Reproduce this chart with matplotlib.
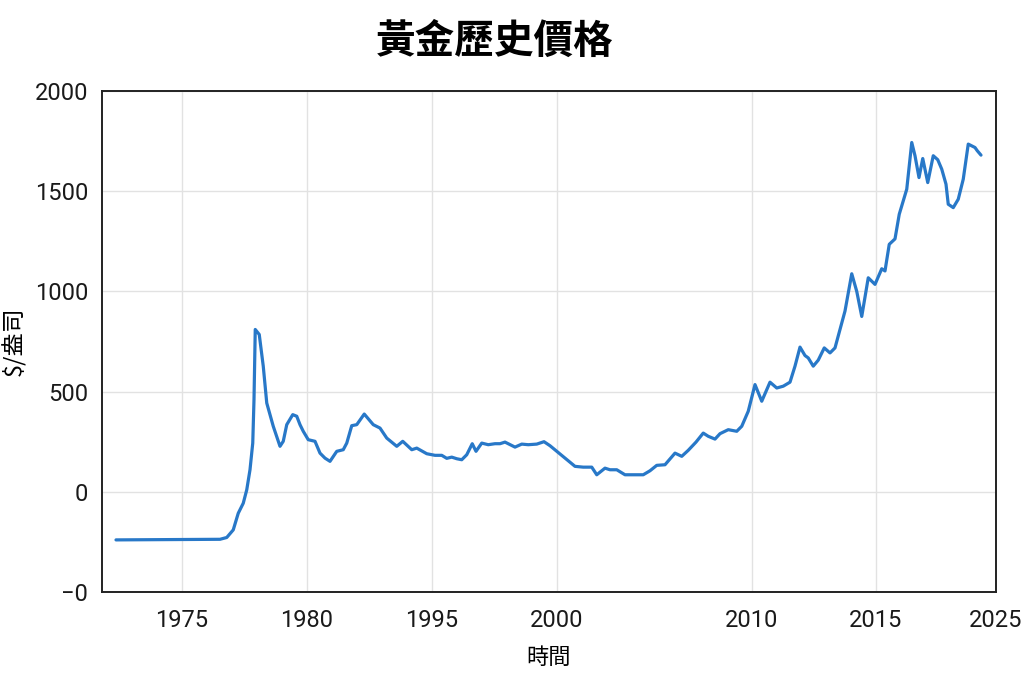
import matplotlib
matplotlib.use("Agg")
import matplotlib.pyplot as plt

# posición en el eje (escala continua del gráfico original) y precio
posicion = [1972.38, 1976.54, 1976.81, 1977.07, 1977.27, 1977.47, 1977.61, 1977.74, 1977.85, 1977.90,
            1977.95, 1978.11, 1978.27, 1978.41, 1978.67, 1978.94, 1979.07, 1979.21, 1979.45, 1979.61,
            1979.74, 1979.87, 1980.07, 1980.34, 1980.54, 1980.74, 1980.94, 1981.21, 1981.47, 1981.61,
            1981.81, 1982.01, 1982.31, 1982.67, 1982.94, 1983.21, 1983.61, 1983.85, 1984.21, 1984.41,
            1984.81, 1985.14, 1985.41, 1985.61, 1985.81, 1986.01, 1986.21, 1986.41, 1986.63, 1986.78,
            1987.01, 1987.27, 1987.54, 1987.74, 1987.94, 1988.34, 1988.61, 1988.87, 1989.21, 1989.50,
            1989.74, 1990.01, 1990.41, 1990.74, 1991.07, 1991.41, 1991.61, 1991.94, 1992.14, 1992.41,
            1992.74, 1993.07, 1993.47, 1993.74, 1994.01, 1994.34, 1994.74, 1995.01, 1995.27, 1995.58,
            1995.87, 1996.07, 1996.34, 1996.54, 1996.87, 1997.21, 1997.41, 1997.67, 1997.94, 1998.21,
            1998.54, 1998.81, 1999.07, 1999.34, 1999.54, 1999.74, 1999.94, 2000.07, 2000.27, 2000.47,
            2000.71, 2000.94, 2001.14, 2001.34, 2001.54, 2001.81, 2002.01, 2002.21, 2002.47, 2002.74,
            2003.01, 2003.14, 2003.31, 2003.54, 2003.71, 2004.01, 2004.21, 2004.34, 2004.50, 2004.65,
            2004.85, 2005.07, 2005.25, 2005.41, 2005.58, 2005.67, 2005.87, 2006.07, 2006.27, 2006.47,
            2006.74, 2006.83, 2006.98]
precio = [-240, -237, -228, -190, -107, -57, 10, 110, 243, 460,
          810, 785, 627, 443, 327, 227, 252, 335, 385, 377,
          335, 302, 260, 252, 193, 168, 152, 202, 210, 243,
          330, 335, 388, 335, 318, 268, 227, 252, 210, 218,
          190, 182, 182, 167, 173, 165, 160, 185, 240, 202,
          243, 235, 240, 240, 248, 223, 238, 235, 238, 250,
          230, 202, 160, 127, 123, 123, 85, 118, 110, 110,
          85, 85, 85, 105, 132, 135, 193, 177, 207, 248,
          293, 277, 263, 290, 310, 302, 327, 402, 535, 452,
          547, 518, 527, 547, 627, 722, 680, 668, 627, 657,
          718, 693, 718, 810, 902, 1088, 1000, 875, 1068, 1035,
          1113, 1102, 1235, 1262, 1385, 1510, 1743, 1677, 1568, 1663,
          1543, 1677, 1657, 1610, 1535, 1435, 1418, 1460, 1560, 1735,
          1718, 1702, 1680]

posiciones_ticks_x = [1975, 1980, 1985, 1990, 1997.8, 2002.77, 2007.58]
etiquetas_x = ["1975", "1980", "1995", "2000", "2010", "2015", "2025"]
valores_ticks_y = [2000, 1500, 1000, 500, 0, -500]
etiquetas_y = ["2000", "1500", "1000", "500", "0", "\u22120"]

fuente_cjk = ["Noto Sans CJK TC", "DejaVu Sans"]

fig = plt.figure(figsize=(10.36, 6.9), dpi=100)
ax = fig.add_axes([102 / 1036, 1 - 592 / 690, (996 - 102) / 1036, (592 - 91) / 690])

ax.plot(posicion, precio, color="#2878c8", linewidth=2.3,
        solid_joinstyle="round", solid_capstyle="round")

ax.set_xlim(1971.82, 2007.58)
ax.set_ylim(-500, 2000)
ax.set_xticks(posiciones_ticks_x)
ax.set_xticklabels(etiquetas_x, fontfamily="Roboto", fontsize=17)
ax.set_yticks(valores_ticks_y)
ax.set_yticklabels(etiquetas_y, fontfamily="Roboto", fontsize=17)
ax.tick_params(axis="both", length=0, colors="#1a1a1a")
ax.tick_params(axis="x", pad=12)
ax.tick_params(axis="y", pad=10)

ax.grid(True, color="#e2e2e2", linewidth=1)
ax.set_axisbelow(True)
for lado in ax.spines.values():
    lado.set_color("#222222")
    lado.set_linewidth(1.4)

ax.set_xlabel("時間", family=fuente_cjk, fontsize=16, fontweight="medium", labelpad=10)
ax.set_ylabel("$/盎司", family=fuente_cjk, fontsize=17, fontweight="medium", labelpad=6)

fig.text(495 / 1036, 1 - 41 / 690, "黃金歷史價格", family=fuente_cjk,
         fontsize=28.5, fontweight="bold", ha="center", va="center")

plt.savefig("out.png", dpi=100)
